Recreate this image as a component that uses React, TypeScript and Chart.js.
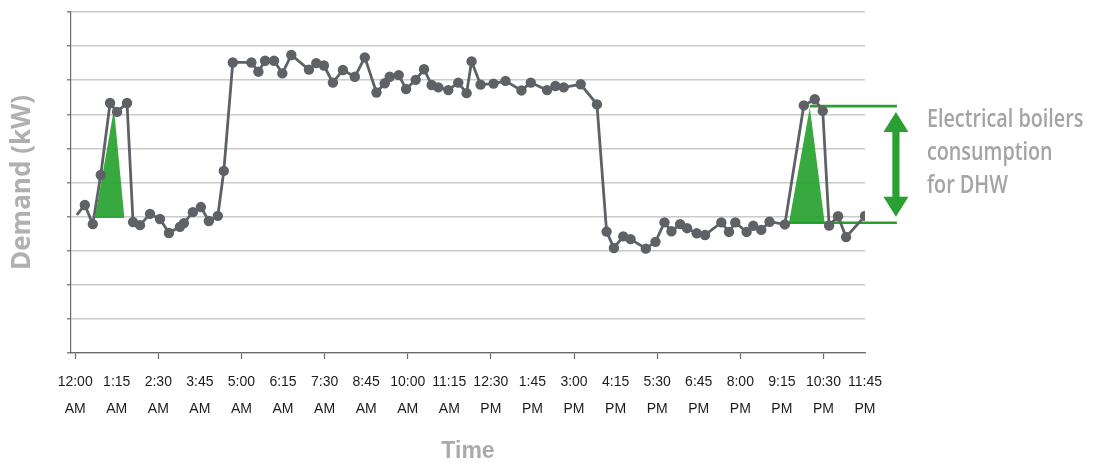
import React, { useEffect, useRef } from 'react';
import { Chart, registerables } from 'chart.js';

Chart.register(...registerables);

// X axis tick labels (every 1 h 15 min)
const tickHours = [0, 1.25, 2.5, 3.75, 5, 6.25, 7.5, 8.75, 10, 11.25, 12.5, 13.75, 15, 16.25, 17.5, 18.75, 20, 21.25, 22.5, 23.75];
const tickTimes = ['12:00', '1:15', '2:30', '3:45', '5:00', '6:15', '7:30', '8:45', '10:00', '11:15', '12:30', '1:45', '3:00', '4:15', '5:30', '6:45', '8:00', '9:15', '10:30', '11:45'];
const tickPeriods = ['AM', 'AM', 'AM', 'AM', 'AM', 'AM', 'AM', 'AM', 'AM', 'AM', 'PM', 'PM', 'PM', 'PM', 'PM', 'PM', 'PM', 'PM', 'PM', 'PM'];

// Demand series: hour of day and demand (grid units)
const demandHours = [
  0.05, 0.29, 0.53, 0.77, 1.05, 1.26, 1.56, 1.74, 1.95, 2.25,
  2.55, 2.82, 3.15, 3.27, 3.54, 3.78, 4.02, 4.29, 4.47, 4.74,
  5.30, 5.51, 5.71, 5.98, 6.23, 6.50, 7.03, 7.25, 7.48, 7.75,
  8.05, 8.41, 8.71, 9.06, 9.31, 9.46, 9.73, 9.95, 10.24, 10.49,
  10.72, 10.92, 11.22, 11.52, 11.77, 11.92, 12.19, 12.58, 12.94, 13.42,
  13.70, 14.19, 14.44, 14.69, 15.20, 15.69, 15.98, 16.20, 16.48, 16.70,
  17.16, 17.45, 17.72, 17.93, 18.19, 18.40, 18.69, 18.94, 19.43, 19.66,
  19.85, 20.19, 20.39, 20.63, 20.88, 21.34, 21.91, 22.24, 22.48, 22.67,
  22.94, 23.18, 23.75,
];
const demandKW = [
  4.05, 4.34, 3.78, 5.22, 7.33, 7.07, 7.33, 3.84, 3.75, 4.08,
  3.93, 3.52, 3.70, 3.81, 4.13, 4.28, 3.87, 4.02, 5.34, 8.52,
  8.52, 8.25, 8.57, 8.57, 8.20, 8.74, 8.31, 8.50, 8.43, 7.93,
  8.30, 8.10, 8.67, 7.64, 7.91, 8.10, 8.15, 7.74, 8.01, 8.32,
  7.86, 7.79, 7.71, 7.93, 7.62, 8.55, 7.87, 7.90, 7.98, 7.70,
  7.93, 7.71, 7.83, 7.79, 7.88, 7.29, 3.56, 3.08, 3.42, 3.34,
  3.06, 3.26, 3.83, 3.57, 3.78, 3.66, 3.51, 3.46, 3.83, 3.55,
  3.83, 3.55, 3.73, 3.61, 3.85, 3.77, 7.26, 7.44, 7.10, 3.74,
  4.01, 3.40, 4.02,
];

// Electrical boiler (DHW) consumption triangles
const boiler1Hours = [0.595, 1.167, 1.48];
const boiler1KW = [3.96, 7.16, 3.96];
const boiler1Base = 3.96;
const boiler2Hours = [21.46, 22.09, 22.54];
const boiler2KW = [3.8, 7.2, 3.8];
const boiler2Base = 3.8;

// Annotation levels
const peakLevel = 7.24;
const baseLevel = 3.82;
const peakLineHours = [22.09, 24.71];
const baseLineHours = [21.46, 24.71];
const arrowHour = 24.68;
const noteLines = ['Electrical boilers', 'consumption', 'for DHW'];

const GRAY = '#5e6266';
const GREEN = '#2a9f32';
const GREEN_FILL = 'rgba(34,160,42,0.9)';

const annotationPlugin = {
  id: 'dhwAnnotation',
  afterDatasetsDraw(chart: any) {
    const { ctx, scales } = chart;
    const x = scales.x;
    const y = scales.y;
    const ax = x.getPixelForValue(arrowHour);
    const yPeak = y.getPixelForValue(peakLevel);
    const yBase = y.getPixelForValue(baseLevel);
    const yTop = yPeak + 6;
    const yBot = yBase - 6;
    const hw = 12.5;
    const hh = 20;
    const sw = 3.6;
    ctx.save();
    ctx.fillStyle = GREEN;
    ctx.beginPath();
    ctx.moveTo(ax, yTop);
    ctx.lineTo(ax + hw, yTop + hh);
    ctx.lineTo(ax + sw, yTop + hh);
    ctx.lineTo(ax + sw, yBot - hh);
    ctx.lineTo(ax + hw, yBot - hh);
    ctx.lineTo(ax, yBot);
    ctx.lineTo(ax - hw, yBot - hh);
    ctx.lineTo(ax - sw, yBot - hh);
    ctx.lineTo(ax - sw, yTop + hh);
    ctx.lineTo(ax - hw, yTop + hh);
    ctx.closePath();
    ctx.fill();

    ctx.fillStyle = '#a4a4a4';
    ctx.font = '600 26px "Open Sans", sans-serif';
    ctx.textBaseline = 'alphabetic';
    ctx.textAlign = 'left';
    noteLines.forEach((t, i) => {
      ctx.save();
      ctx.translate(ax + 31, yPeak + 21 + i * 33);
      ctx.scale(0.76, 1);
      ctx.fillText(t, 0, 0);
      ctx.restore();
    });
    ctx.restore();
  },
};

export default function App() {
  const canvasRef = useRef<HTMLCanvasElement | null>(null);

  useEffect(() => {
    if (!canvasRef.current) return;
    const toXY = (xs: number[], ys: number[]) => xs.map((v, i) => ({ x: v, y: ys[i] }));
    const chart = new Chart(canvasRef.current, {
      type: 'line',
      data: {
        datasets: [
          {
            label: 'Demand',
            data: toXY(demandHours, demandKW),
            borderColor: GRAY,
            backgroundColor: GRAY,
            borderWidth: 2.8,
            pointRadius: (c: any) => (c.dataIndex === 0 ? 0 : 5.2),
            pointBorderWidth: 0,
            pointBackgroundColor: GRAY,
            tension: 0,
            fill: false,
          },
          {
            label: 'Boiler 1',
            data: toXY(boiler1Hours, boiler1KW),
            borderColor: 'rgba(0,0,0,0)',
            borderWidth: 0,
            backgroundColor: GREEN_FILL,
            pointRadius: 0,
            fill: { value: boiler1Base },
            tension: 0,
          },
          {
            label: 'Boiler 2',
            data: toXY(boiler2Hours, boiler2KW),
            borderColor: 'rgba(0,0,0,0)',
            borderWidth: 0,
            backgroundColor: GREEN_FILL,
            pointRadius: 0,
            fill: { value: boiler2Base },
            tension: 0,
          },
          {
            label: 'Peak line',
            data: peakLineHours.map((h) => ({ x: h, y: peakLevel })),
            borderColor: GREEN,
            borderWidth: 2.6,
            pointRadius: 0,
            fill: false,
            clip: false as any,
          },
          {
            label: 'Base line',
            data: baseLineHours.map((h) => ({ x: h, y: baseLevel })),
            borderColor: GREEN,
            borderWidth: 2.6,
            pointRadius: 0,
            fill: false,
            clip: false as any,
          },
        ] as any,
      },
      options: {
        animation: false,
        responsive: false,
        maintainAspectRatio: false,
        layout: { padding: { left: 0, right: 240, top: 12, bottom: 0 }, autoPadding: false },
        plugins: { legend: { display: false }, tooltip: { enabled: false } },
        scales: {
          x: {
            type: 'linear',
            min: -0.125,
            max: 23.75,
            afterBuildTicks: (s: any) => {
              s.ticks = tickHours.map((v) => ({ value: v }));
            },
            afterFit: (s: any) => {
              s.height = 111;
            },
            ticks: {
              autoSkip: false,
              maxRotation: 0,
              minRotation: 0,
              padding: 9,
              color: '#1c1c1c',
              font: { family: '"Liberation Sans", Arial, sans-serif', size: 14, lineHeight: 1.97 },
              callback: (_v: any, i: number) => [tickTimes[i], tickPeriods[i]],
            },
            grid: {
              drawOnChartArea: false,
              drawTicks: true,
              tickLength: 6,
              tickWidth: 1.2,
              tickColor: (c: any) => (c.index % 2 === 0 ? '#6a6a6a' : 'rgba(0,0,0,0)'),
            },
            border: { display: true, color: '#6a6a6a', width: 1.2 },
            title: {
              display: true,
              text: 'Time',
              color: '#ababab',
              font: { family: '"Liberation Sans", Arial, sans-serif', size: 23, weight: 'bold', lineHeight: 1 },
              padding: { top: 0, bottom: 1 },
            },
          },
          y: {
            min: 0,
            max: 10,
            afterFit: (s: any) => {
              s.width = 71;
            },
            ticks: { stepSize: 1, display: false },
            grid: {
              color: '#cacaca',
              lineWidth: 1.6,
              drawTicks: true,
              tickLength: 4,
              tickColor: '#6a6a6a',
              tickWidth: 1.2,
            },
            border: { display: true, color: '#6a6a6a', width: 1.2 },
            title: {
              display: true,
              text: 'Demand (kW)',
              color: '#b0b0b0',
              font: { family: '"Open Sans", sans-serif', size: 26, weight: 'bold', lineHeight: 1.2 },
              padding: { top: 7, bottom: 0 },
            },
          },
        },
      } as any,
      plugins: [annotationPlugin],
    });
    return () => chart.destroy();
  }, []);

  return (
    <div style={{ position: 'absolute', left: 0, top: 0, width: 1105, height: 464, background: '#fff' }}>
      <canvas ref={canvasRef} width={1105} height={464} style={{ width: 1105, height: 464, display: 'block' }} />
    </div>
  );
}
